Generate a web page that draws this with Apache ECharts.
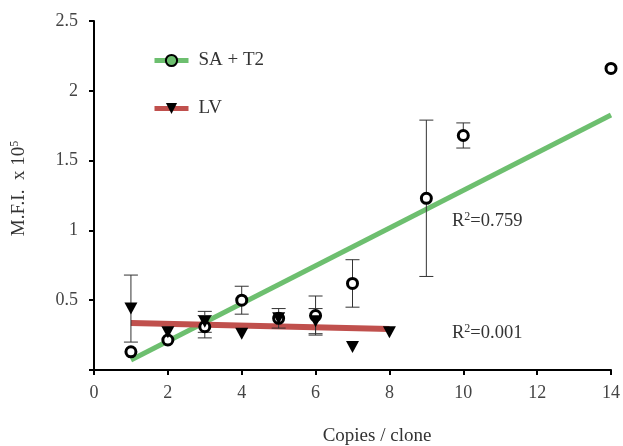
<!DOCTYPE html>
<html>
<head>
<meta charset="utf-8">
<script src="https://cdn.jsdelivr.net/npm/echarts@6/dist/echarts.min.js"></script>
<style>html,body{margin:0;padding:0;background:#fff;}#c{width:623px;height:446px;}</style>
</head>
<body>
<div id="c"></div>
<script>
// ---- data ----
var saX   = [1, 2, 3, 4, 5, 6, 7, 9, 10, 14];
var saY   = [0.13, 0.215, 0.31, 0.50, 0.37, 0.39, 0.62, 1.23, 1.68, 2.16];
var saErr = [0, 0, 0.08, 0.10, 0.07, 0.14, 0.17, 0.56, 0.09, 0];
var lvX   = [1, 2, 3, 4, 5, 6, 7, 8];
var lvY   = [0.44, 0.27, 0.345, 0.26, 0.37, 0.35, 0.165, 0.27];
var lvErr = [0.24, 0, 0.075, 0, 0, 0.09, 0, 0];
var saTrendX = [1, 14];
var saTrendY = [0.072, 1.827];
var lvTrendX = [1, 8];
var lvTrendY = [0.337, 0.294];
var saR2 = '0.759';
var lvR2 = '0.001';
var xTicks = [0, 2, 4, 6, 8, 10, 12, 14];
var yTicks = [0, 0.5, 1, 1.5, 2, 2.5];

function pairs(xs, ys) { return xs.map(function (x, i) { return [x, ys[i]]; }); }
function errData(xs, ys, es) {
  var out = [];
  xs.forEach(function (x, i) { if (es[i] > 0) out.push([x, ys[i] - es[i], ys[i] + es[i]]); });
  return out;
}
var FONT = 'Liberation Serif';
var chart = echarts.init(document.getElementById('c'));

function errRender(params, api) {
  var x = api.value(0);
  var lo = api.coord([x, api.value(1)]);
  var hi = api.coord([x, api.value(2)]);
  var hw = 7;
  var st = { stroke: '#333', lineWidth: 1 };
  return {
    type: 'group',
    children: [
      { type: 'line', shape: { x1: lo[0], y1: lo[1], x2: hi[0], y2: hi[1] }, style: st },
      { type: 'line', shape: { x1: lo[0] - hw, y1: lo[1], x2: lo[0] + hw, y2: lo[1] }, style: st },
      { type: 'line', shape: { x1: hi[0] - hw, y1: hi[1], x2: hi[0] + hw, y2: hi[1] }, style: st }
    ]
  };
}

var downTri = 'path://M0,0 L12,0 L6,11 Z';
var richR = {
  a: { fontFamily: FONT, fontSize: 18.5, fill: '#333' },
  s: { fontFamily: FONT, fontSize: 12, fill: '#333', verticalAlign: 'top', padding: [0, 0, 9, 0] }
};

chart.setOption({
  animation: false,
  backgroundColor: '#fff',
  textStyle: { fontFamily: FONT },
  grid: { left: 94, right: 12, top: 21, bottom: 76, containLabel: false, outerBoundsMode: 'none' },
  legend: {
    orient: 'vertical',
    left: 147,
    top: 46,
    itemWidth: 34,
    itemHeight: 14,
    itemGap: 29,
    lineStyle: { width: 5 },
    textStyle: { fontFamily: FONT, fontSize: 19, color: '#333', padding: [0, 0, 0, 5] },
    data: ['SA + T2', 'LV']
  },
  xAxis: {
    type: 'value', min: 0, max: 14, interval: 2,
    name: 'Copies / clone', nameLocation: 'middle', nameGap: 57,
    nameTextStyle: { fontFamily: FONT, fontSize: 19, color: '#333', padding: [0, 0, 0, 49] },
    axisLine: { lineStyle: { color: '#000', width: 2 } },
    axisTick: { show: true, inside: false, length: 5, lineStyle: { color: '#000', width: 2 } },
    axisLabel: { fontFamily: FONT, fontSize: 18, color: '#444', margin: 14 },
    splitLine: { show: false }
  },
  yAxis: {
    type: 'value', min: 0, max: 2.5, interval: 0.5,
    name: '{a|M.F.I.  x 10}{s|5}', nameLocation: 'middle', nameGap: 64, nameRotate: 90,
    nameTextStyle: {
      fontFamily: FONT, fontSize: 19, color: '#333',
      rich: { a: { fontFamily: FONT, fontSize: 19, color: '#333' },
              s: { fontFamily: FONT, fontSize: 12, color: '#333', verticalAlign: 'top', padding: [0, 0, 9, 0] } },
      padding: [0, 0, 0, 14]
    },
    axisLine: { lineStyle: { color: '#000', width: 2 } },
    axisTick: { show: true, inside: false, length: 5, lineStyle: { color: '#000', width: 2 } },
    axisLabel: {
      fontFamily: FONT, fontSize: 18, color: '#444', margin: 16,
      formatter: function (v) { return v === 0 ? '' : String(v); }
    },
    splitLine: { show: false }
  },
  graphic: [
    { type: 'text', left: 452, top: 211, z: 100,
      style: { text: '{a|R}{s|2}{a|=' + saR2 + '}', fill: '#333', rich: richR } },
    { type: 'text', left: 452, top: 323, z: 100,
      style: { text: '{a|R}{s|2}{a|=' + lvR2 + '}', fill: '#333', rich: richR } }
  ],
  series: [
    {
      name: 'SA + T2', type: 'line', data: pairs(saTrendX, saTrendY),
      showSymbol: false, symbol: 'circle', symbolSize: 10, z: 2,
      lineStyle: { color: '#6dbf6f', width: 5 },
      itemStyle: { color: '#6dbf6f', borderColor: '#000', borderWidth: 3 }
    },
    {
      name: 'LV', type: 'line', data: pairs(lvTrendX, lvTrendY),
      showSymbol: false, symbol: downTri, symbolSize: [13, 12], z: 2,
      lineStyle: { color: '#c0504d', width: 6 },
      itemStyle: { color: '#000' }
    },
    {
      type: 'custom', renderItem: errRender, data: errData(saX, saY, saErr), z: 3,
      encode: { x: 0, y: [1, 2] }, silent: true
    },
    {
      type: 'custom', renderItem: errRender, data: errData(lvX, lvY, lvErr), z: 3,
      encode: { x: 0, y: [1, 2] }, silent: true
    },
    {
      name: 'SA pts', type: 'scatter', data: pairs(saX, saY), z: 4,
      symbol: 'circle', symbolSize: 10,
      itemStyle: { color: '#fff', borderColor: '#000', borderWidth: 3, opacity: 1 }
    },
    {
      name: 'LV pts', type: 'scatter', data: pairs(lvX, lvY), z: 5,
      symbol: downTri, symbolSize: [13, 12],
      itemStyle: { color: '#000', opacity: 1 }
    }
  ]
});
</script>
</body>
</html>
